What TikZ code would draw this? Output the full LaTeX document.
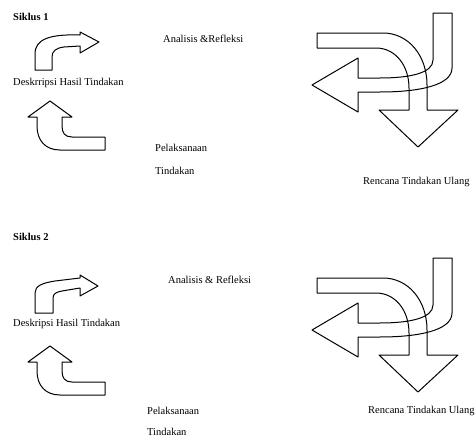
\documentclass[tikz,border=0pt]{standalone}
\usepackage{fontspec}
\setmainfont{Liberation Serif}
\tikzset{
  blok/.style={line width=1pt, line join=round},
  teks/.style={anchor=west, inner sep=0pt, font=\fontsize{10.5}{12}\selectfont},
  judul/.style={teks, font=\fontsize{10.5}{12}\selectfont\bfseries}
}
% the three block arrows that both cycles share
\def\siklusarrows{
  % arrow upwards (bottom left)
  \draw[blok] (50,101) -- (72,117) -- (62,117) -- (62,126)
    .. controls (62,133) and (65,137) .. (72,137) -- (105,137) -- (105,150)
    -- (60,150) .. controls (45,150) and (37,140) .. (37,126) -- (37,117)
    -- (28,117) -- cycle;
  % arrow downwards (right)
  \draw[blok] (317,33) -- (383,33) .. controls (408,33) and (427,55) .. (427,85)
    -- (427,110) -- (458,110) -- (418,147) -- (379,110) -- (409,110) -- (409,88)
    .. controls (409,65) and (395,48) .. (376,48) -- (317,48) -- cycle;
  % arrow to the left (right)
  \draw[blok] (433,13) -- (452,13) -- (452,68)
    .. controls (452,85) and (420,92) .. (380,92) -- (358,92) -- (358,112)
    -- (312,85) -- (358,58) -- (358,78) -- (380,78)
    .. controls (410,78) and (433,73) .. (433,60) -- cycle;
}

\begin{document}
\begin{tikzpicture}[x=1pt,y=-1pt]
  \useasboundingbox (0,0) rectangle (475,439);
  %%%%% SIKLUS 1 %%%%%
  \node[judul] (siklus1) at (13,17) {Siklus 1};
  \node[teks] (analisis1) at (163,39) {Analisis \&Refleksi};
  \node[teks] (deskripsi1) at (13,83) {Deskrripsi Hasil Tindakan};
  \node[teks] (pelaksanaan1) at (155,148) {Pelaksanaan};
  \node[teks] (tindakan1) at (155,171) {Tindakan};
  \node[teks] (rencana1) at (363,182) {Rencana Tindakan Ulang};
  \draw[blok] (35,70) -- (35,54) .. controls (35,39) and (50,34) .. (80,35)
    -- (80,32) -- (99,42) -- (80,53) -- (80,46) -- (64,47)
    .. controls (56,48) and (52,51) .. (52,57) -- (52,70) -- cycle;
  \siklusarrows

  %%%%% SIKLUS 2 %%%%%
  \node[judul] (siklus2) at (13,237) {Siklus 2};
  \node[teks] (analisis2) at (168,280) {Analisis \& Refleksi};
  \node[teks] (deskripsi2) at (13,324) {Deskripsi Hasil Tindakan};
  \node[teks] (pelaksanaan2) at (147,411) {Pelaksanaan};
  \node[teks] (tindakan2) at (147,432) {Tindakan};
  \node[teks] (rencana2) at (368,411) {Rencana Tindakan Ulang};
  \draw[blok] (35,313) -- (35,293) .. controls (35,286) and (42,283) .. (55,281)
    -- (80,278) -- (80,275) -- (98,286) -- (80,296) -- (80,288) -- (62,291)
    .. controls (56,292) and (53,294) .. (53,298) -- (53,313) -- cycle;
  \begin{scope}[shift={(0,245)}]
    \siklusarrows
  \end{scope}
\end{tikzpicture}
\end{document}
